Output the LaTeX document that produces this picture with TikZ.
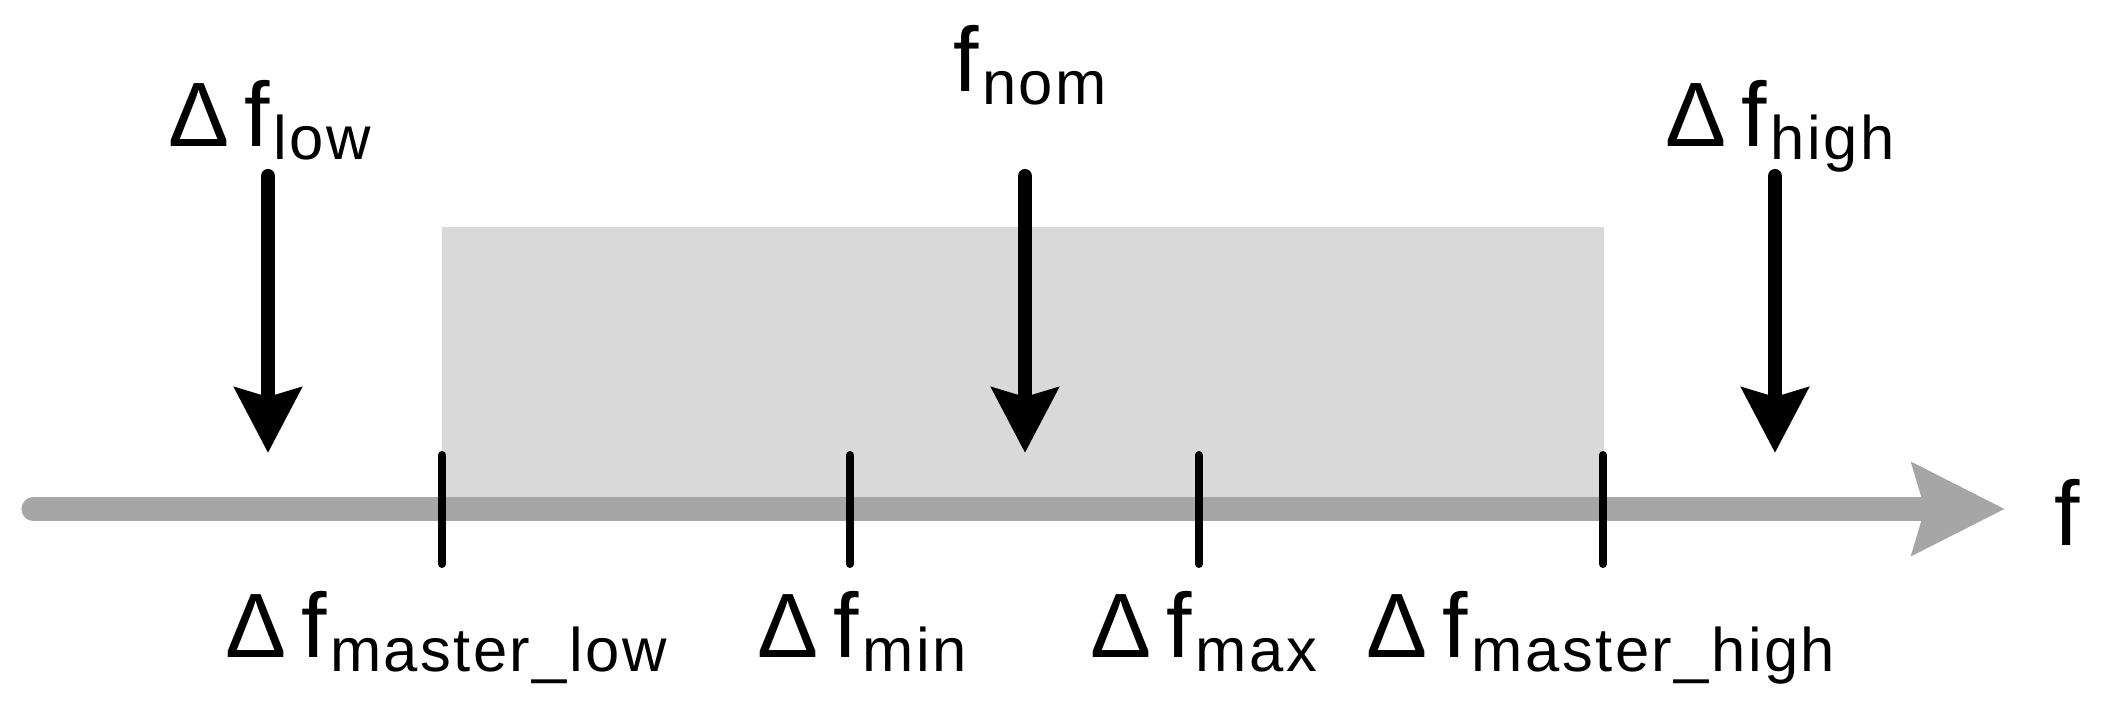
\documentclass[tikz,border=0pt]{standalone}
\usepackage{fontspec}
\setmainfont{Liberation Sans}
\usetikzlibrary{arrows.meta}
\definecolor{boxgray}{HTML}{D9D9D9}
\definecolor{axisgray}{HTML}{A6A6A6}
\newcommand{\subfnt}{\fontsize{17.5pt}{20pt}\selectfont\addfontfeature{LetterSpace=4}}
\newcommand{\fsub}[1]{f\kern1pt\raisebox{-0.13cm}{\subfnt #1}}
\newcommand{\dfsub}[1]{$\Delta$\kern0.15cm\fsub{#1}}
\renewcommand{\dfsub}[1]{Δ\kern0.15cm\fsub{#1}}
\begin{document}
\begin{tikzpicture}[x=0.01cm,y=-0.01cm]
\tikzstyle{every node}=[inner sep=0pt,anchor=base,font=\fontsize{26pt}{30pt}\selectfont]
\tikzstyle{tick}=[line width=0.08cm,line cap=round]
\tikzstyle{darr}=[line width=0.14cm,line cap=round,-{Stealth[length=0.65cm,width=0.66cm,inset=0.09cm]}]
\useasboundingbox (0,0) rectangle (2114,716);
% band and axis
\fill[boxgray] (442,227) rectangle (1604,509);
\coordinate (a0) at (33,509);
\coordinate (a1) at (2005,509);
\draw[line width=0.23cm,axisgray,line cap=round,-{Stealth[length=0.92cm,width=0.9cm,inset=0.12cm]}] (a0) -- (a1);
\node (fx) at (2067,546) {f};
% ticks and their labels
\foreach \x/\c/\s [count=\i from 0] in {442/446/master\_low,850/862/min,1199/1204/max,1603/1601/master\_high}
{\coordinate (t\i) at (\x,455);
 \coordinate (u\i) at (\x,564);
 \draw[tick] (t\i) -- (u\i);
 \node (m\i) at (\c,658) {\dfsub{\s}};}
% arrows from above
\node (lo) at (270,147) {\dfsub{low}};
\node (nom) at (1030,92) {\fsub{nom}};
\node (hi) at (1780,147) {\dfsub{high}};
\foreach \n/\x in {lo/268,nom/1025,hi/1775}
{\coordinate (\n1) at (\x,176);
 \coordinate (\n2) at (\x,453);
 \draw[darr] (\n1) -- (\n2);}
\end{tikzpicture}
\end{document}
